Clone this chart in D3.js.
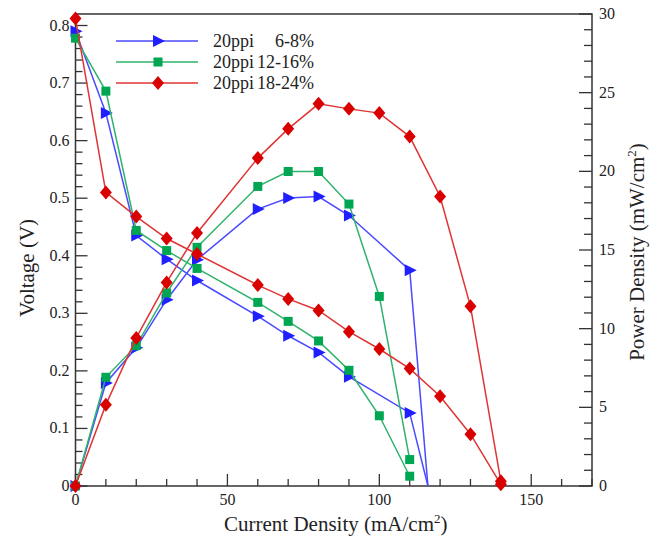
<!DOCTYPE html>
<html lang="en">
<head>
<meta charset="UTF-8">
<title>Polarization and power density</title>
<style>
  body { margin: 0; background: #fff; }
  text { font-family: "Liberation Serif", "Times New Roman", serif; fill: #222; }
</style>
</head>
<body>
<svg></svg>
<script src="https://d3js.org/d3.v7.min.js"></script>
<script>
// data
var seriesNames = ["20ppi", "20ppi", "20ppi"];
var seriesRanges = ["6-8%", "12-16%", "18-24%"];

var blueI = [0, 10, 20, 30, 40, 60, 70, 80, 90, 110, 116];
var blueV = [0.79, 0.648, 0.435, 0.394, 0.357, 0.295, 0.261, 0.232, 0.190, 0.127, 0];
var blueP = [0, 6.55, 8.78, 11.84, 14.38, 17.6, 18.3, 18.4, 17.19, 13.72, 0];

var greenI = [0, 10, 20, 30, 40, 60, 70, 80, 90, 100, 110];
var greenV = [0.778, 0.686, 0.444, 0.409, 0.378, 0.319, 0.286, 0.252, 0.201, 0.122, 0.017];
var greenP = [0, 6.91, 8.92, 12.27, 15.17, 19.04, 19.99, 19.99, 17.92, 12.05, 1.68];

var redI = [0, 10, 20, 30, 40, 60, 70, 80, 90, 100, 110, 120, 130, 140];
var redV = [0.812, 0.510, 0.468, 0.430, 0.403, 0.349, 0.325, 0.305, 0.268, 0.238, 0.204, 0.156, 0.090, 0.003];
var redP = [0, 5.17, 9.41, 12.94, 16.08, 20.84, 22.70, 24.29, 23.97, 23.70, 22.21, 18.40, 11.42, 0.3];

var xTicks = [0, 50, 100, 150];
var yTicks = [0, 0.1, 0.2, 0.3, 0.4, 0.5, 0.6, 0.7, 0.8];
var y2Ticks = [0, 5, 10, 15, 20, 25, 30];

var W = 665, H = 545;
var plot = {left: 75.5, right: 592, top: 14, bottom: 486};

var svg = d3.select("svg").attr("width", W).attr("height", H);

var x = d3.scaleLinear().domain([0, 170]).range([plot.left, plot.right]);
var y = d3.scaleLinear().domain([0, 0.82]).range([plot.bottom, plot.top]);
var y2 = d3.scaleLinear().domain([0, 30]).range([plot.bottom, plot.top]);

var series = [
  {I: blueI, V: blueV, P: blueP, line: "#4a4aff", fill: "#1f1fff", shape: "tri", noMarkLast: true},
  {I: greenI, V: greenV, P: greenP, line: "#2fb36a", fill: "#00a651", shape: "sq"},
  {I: redI, V: redV, P: redP, line: "#e03434", fill: "#d90000", shape: "dia"}
];

function markerPath(shape) {
  if (shape == "tri") return "M-5,-6L7,0L-5,6Z";
  if (shape == "sq") return "M-4.5,-4.5H4.5V4.5H-4.5Z";
  return "M0,-7L6,0L0,7L-6,0Z";
}

// axes (inward ticks)
var axColor = "#333";
var gAx = svg.append("g");

function tickLine(x1, y1, x2, y2v) {
  gAx.append("line").attr("x1", x1).attr("y1", y1).attr("x2", x2).attr("y2", y2v)
    .attr("stroke", axColor).attr("stroke-width", 1.3);
}

// bottom
d3.range(0, 171, 10).forEach(function(v) {
  var major = v % 50 == 0;
  tickLine(x(v), plot.bottom, x(v), plot.bottom - (major ? 12 : 7));
});
xTicks.forEach(function(v) {
  gAx.append("text").attr("x", x(v)).attr("y", plot.bottom + 19)
    .attr("text-anchor", "middle").attr("font-size", 16).text(v);
});
// left
d3.range(0, 41).forEach(function(i) {
  var v = i * 0.02;
  var major = i % 5 == 0;
  tickLine(plot.left, y(v), plot.left + (major ? 12 : 7), y(v));
});
yTicks.forEach(function(v) {
  gAx.append("text").attr("x", plot.left - 6).attr("y", y(v) + 5)
    .attr("text-anchor", "end").attr("font-size", 16).text(v == 0 ? "0" : d3.format(".1f")(v));
});
// right
d3.range(0, 31).forEach(function(v) {
  var major = v % 5 == 0;
  tickLine(plot.right, y2(v), plot.right - (major ? 13 : 8), y2(v));
});
y2Ticks.forEach(function(v) {
  gAx.append("text").attr("x", plot.right + 7).attr("y", y2(v) + 5)
    .attr("text-anchor", "start").attr("font-size", 16).text(v);
});
// frame
gAx.append("rect").attr("x", plot.left).attr("y", plot.top)
  .attr("width", plot.right - plot.left).attr("height", plot.bottom - plot.top)
  .attr("fill", "none").attr("stroke", axColor).attr("stroke-width", 1.5);

// axis titles
var xt = svg.append("text").attr("x", (plot.left + plot.right) / 2 + 2).attr("y", 531)
  .attr("text-anchor", "middle").attr("font-size", 21);
xt.append("tspan").text("Current Density (mA/cm");
xt.append("tspan").attr("font-size", 13).attr("dy", -8).text("2");
xt.append("tspan").attr("dy", 8).text(")");

svg.append("text").attr("transform", "translate(34,268) rotate(-90)")
  .attr("text-anchor", "middle").attr("font-size", 21).text("Voltage (V)");

var yt = svg.append("text").attr("transform", "translate(644,252) rotate(-90)")
  .attr("text-anchor", "middle").attr("font-size", 21);
yt.append("tspan").text("Power Density (mW/cm");
yt.append("tspan").attr("font-size", 13).attr("dy", -8).text("2");
yt.append("tspan").attr("dy", 8).text(")");

// curves
var gData = svg.append("g");
series.forEach(function(s) {
  ["V", "P"].forEach(function(k) {
    var sc = k == "V" ? y : y2;
    var pts = s.I.map(function(v, i) { return [x(v), sc(s[k][i])]; });
    gData.append("path").attr("d", d3.line()(pts))
      .attr("fill", "none").attr("stroke", s.line).attr("stroke-width", 1.5);
    var mk = s.noMarkLast ? pts.slice(0, -1) : pts;
    gData.selectAll(null).data(mk).enter().append("path")
      .attr("d", markerPath(s.shape))
      .attr("transform", function(d) { return "translate(" + d[0] + "," + d[1] + ")"; })
      .attr("fill", s.fill);
  });
});

// legend
var legY = [41, 62, 83];
series.forEach(function(s, i) {
  var g = svg.append("g");
  g.append("line").attr("x1", 116).attr("x2", 198).attr("y1", legY[i]).attr("y2", legY[i])
    .attr("stroke", s.line).attr("stroke-width", 1.5);
  g.append("path").attr("d", markerPath(s.shape))
    .attr("transform", "translate(158," + legY[i] + ")").attr("fill", s.fill);
  g.append("text").attr("x", 213).attr("y", legY[i] + 6).attr("font-size", 18).text(seriesNames[i]);
  g.append("text").attr("x", 314).attr("y", legY[i] + 6).attr("text-anchor", "end")
    .attr("font-size", 18).text(seriesRanges[i]);
});
</script>
</body>
</html>
